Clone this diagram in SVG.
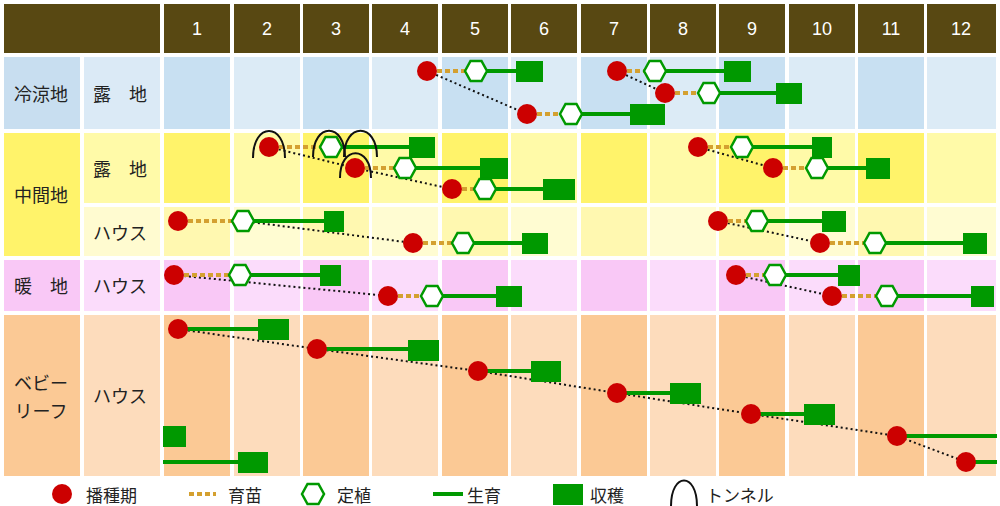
<svg xmlns="http://www.w3.org/2000/svg" width="1000" height="506" viewBox="0 0 1000 506">
<style>
text{font-family:"Noto Sans CJK JP","Liberation Sans",sans-serif;font-size:18px;fill:#222;text-anchor:middle;dominant-baseline:central}
.h{fill:#fff;font-family:"Liberation Sans",sans-serif}
.hd{fill:#584812}
.s{fill:#cc0000}
.p{fill:#fff;stroke:#009900;stroke-width:2.5}
.q{fill:#009900}
.g{stroke:#009900;stroke-width:4;fill:none}
.n{stroke:#d4a030;stroke-width:4;stroke-dasharray:5,3;fill:none}
.d{stroke:#111;stroke-width:2;stroke-dasharray:2,3;fill:none}
.t{stroke:#111;stroke-width:2;fill:none}
.lg{font-size:17px;text-anchor:start}
</style>
<defs>
<polygon id="hx" points="-11,0 -5.5,-10 5.5,-10 11,0 5.5,10 -5.5,10"/>
</defs>
<rect width="1000" height="506" fill="#fff"/>
<g id="header">
<rect class="hd" x="4" y="4" width="156" height="49"/>
<rect class="hd" x="164" y="4" width="66" height="49"/><text class="h" x="197" y="29">1</text>
<rect class="hd" x="234" y="4" width="66" height="49"/><text class="h" x="267" y="29">2</text>
<rect class="hd" x="303" y="4" width="66" height="49"/><text class="h" x="336" y="29">3</text>
<rect class="hd" x="372" y="4" width="66" height="49"/><text class="h" x="405" y="29">4</text>
<rect class="hd" x="442" y="4" width="66" height="49"/><text class="h" x="475" y="29">5</text>
<rect class="hd" x="511" y="4" width="66" height="49"/><text class="h" x="544" y="29">6</text>
<rect class="hd" x="581" y="4" width="66" height="49"/><text class="h" x="614" y="29">7</text>
<rect class="hd" x="650" y="4" width="66" height="49"/><text class="h" x="683" y="29">8</text>
<rect class="hd" x="719" y="4" width="66" height="49"/><text class="h" x="752" y="29">9</text>
<rect class="hd" x="789" y="4" width="66" height="49"/><text class="h" x="822" y="29">10</text>
<rect class="hd" x="858" y="4" width="66" height="49"/><text class="h" x="891" y="29">11</text>
<rect class="hd" x="927" y="4" width="69" height="49"/><text class="h" x="961" y="29">12</text>
</g>
<g id="grid">
<rect x="4" y="57" width="76" height="72" fill="#c8def0"/>
<rect x="84" y="57" width="76" height="72" fill="#dbeaf6"/>
<rect x="4" y="133" width="76" height="123" fill="#fff36a"/>
<rect x="84" y="133" width="76" height="70" fill="#fffaa8"/>
<rect x="84" y="207" width="76" height="49" fill="#fffbd0"/>
<rect x="4" y="260" width="76" height="51" fill="#f9c8f6"/>
<rect x="84" y="260" width="76" height="51" fill="#fbdcfb"/>
<rect x="4" y="315" width="76" height="161" fill="#fbc995"/>
<rect x="84" y="315" width="76" height="161" fill="#fddcbc"/>
</g>
<g id="cells">
<g fill="#c8e0f2"><rect x="164" y="57" width="66" height="72"/><rect x="303" y="57" width="66" height="72"/><rect x="442" y="57" width="66" height="72"/><rect x="581" y="57" width="66" height="72"/><rect x="719" y="57" width="66" height="72"/><rect x="858" y="57" width="66" height="72"/></g>
<g fill="#dcebf6"><rect x="234" y="57" width="66" height="72"/><rect x="372" y="57" width="66" height="72"/><rect x="511" y="57" width="66" height="72"/><rect x="650" y="57" width="66" height="72"/><rect x="789" y="57" width="66" height="72"/><rect x="927" y="57" width="69" height="72"/></g>
<g fill="#fff36a"><rect x="164" y="133" width="66" height="70"/><rect x="303" y="133" width="66" height="70"/><rect x="442" y="133" width="66" height="70"/><rect x="581" y="133" width="66" height="70"/><rect x="719" y="133" width="66" height="70"/><rect x="858" y="133" width="66" height="70"/></g>
<g fill="#fffaa8"><rect x="234" y="133" width="66" height="70"/><rect x="372" y="133" width="66" height="70"/><rect x="511" y="133" width="66" height="70"/><rect x="650" y="133" width="66" height="70"/><rect x="789" y="133" width="66" height="70"/><rect x="927" y="133" width="69" height="70"/></g>
<g fill="#fff8b0"><rect x="164" y="207" width="66" height="49"/><rect x="303" y="207" width="66" height="49"/><rect x="442" y="207" width="66" height="49"/><rect x="581" y="207" width="66" height="49"/><rect x="719" y="207" width="66" height="49"/><rect x="858" y="207" width="66" height="49"/></g>
<g fill="#fffcd2"><rect x="234" y="207" width="66" height="49"/><rect x="372" y="207" width="66" height="49"/><rect x="511" y="207" width="66" height="49"/><rect x="650" y="207" width="66" height="49"/><rect x="789" y="207" width="66" height="49"/><rect x="927" y="207" width="69" height="49"/></g>
<g fill="#f9c8f6"><rect x="164" y="260" width="66" height="51"/><rect x="303" y="260" width="66" height="51"/><rect x="442" y="260" width="66" height="51"/><rect x="581" y="260" width="66" height="51"/><rect x="719" y="260" width="66" height="51"/><rect x="858" y="260" width="66" height="51"/></g>
<g fill="#fbdcfb"><rect x="234" y="260" width="66" height="51"/><rect x="372" y="260" width="66" height="51"/><rect x="511" y="260" width="66" height="51"/><rect x="650" y="260" width="66" height="51"/><rect x="789" y="260" width="66" height="51"/><rect x="927" y="260" width="69" height="51"/></g>
<g fill="#fbc995"><rect x="164" y="315" width="66" height="161"/><rect x="303" y="315" width="66" height="161"/><rect x="442" y="315" width="66" height="161"/><rect x="581" y="315" width="66" height="161"/><rect x="719" y="315" width="66" height="161"/><rect x="858" y="315" width="66" height="161"/></g>
<g fill="#fddcbc"><rect x="234" y="315" width="66" height="161"/><rect x="372" y="315" width="66" height="161"/><rect x="511" y="315" width="66" height="161"/><rect x="650" y="315" width="66" height="161"/><rect x="789" y="315" width="66" height="161"/><rect x="927" y="315" width="69" height="161"/></g>
</g>
<g id="labels">
<text x="41" y="93">冷涼地</text><text x="120" y="93">露　地</text>
<text x="41" y="194">中間地</text><text x="120" y="168">露　地</text><text x="120" y="232">ハウス</text>
<text x="41" y="285">暖　地</text><text x="120" y="285">ハウス</text>
<text x="41" y="382">ベビー</text><text x="41" y="410">リーフ</text><text x="120" y="395">ハウス</text>
</g>
<g id="connectors">
<path class="d" d="M427,71 L527,114 M617,71 L665,93 M269,147 L355,168 L452,189 M698,147 L773,168 M243,221 L413,243 M718,221 L820,243 M174,275 L388,296 M736,275 L832,296 M178,329 L317,349 L478,371 L617,393 L751,414 L897,436 L966,462"/>
<path class="n" d="M437,71H465 M537,114H560 M627,71H644 M675,93H698 M279,147H320 M365,168H394 M462,189H474 M708,147H731 M783,168H806 M188,221H232 M423,243H452 M728,221H746 M830,243H864 M184,275H229 M398,296H421 M746,275H764 M842,296H876"/>
<path class="g" d="M487,71H520 M582,114H635 M666,71H730 M720,93H780 M342,147H415 M416,168H485 M496,189H550 M753,147H815 M828,168H870 M254,221H328 M474,243H525 M768,221H826 M886,243H968 M251,275H324 M443,296H500 M786,275H842 M898,296H975 M178,329H262 M317,349H412 M478,371H535 M617,393H674 M751,414H808 M897,436H997 M966,462H997 M163,462H242"/>
</g>
<g id="harvest">
<rect class="q" x="516" y="61" width="27" height="21"/>
<rect class="q" x="630" y="104" width="35" height="21"/>
<rect class="q" x="724" y="61" width="27" height="21"/>
<rect class="q" x="776" y="83" width="26" height="21"/>
<rect class="q" x="409" y="137" width="26" height="21"/>
<rect class="q" x="480" y="158" width="28" height="21"/>
<rect class="q" x="543" y="179" width="32" height="21"/>
<rect class="q" x="812" y="137" width="20" height="21"/>
<rect class="q" x="866" y="158" width="24" height="21"/>
<rect class="q" x="324" y="211" width="20" height="21"/>
<rect class="q" x="522" y="233" width="26" height="21"/>
<rect class="q" x="822" y="211" width="24" height="21"/>
<rect class="q" x="963" y="233" width="24" height="21"/>
<rect class="q" x="320" y="265" width="21" height="21"/>
<rect class="q" x="496" y="286" width="26" height="21"/>
<rect class="q" x="838" y="265" width="22" height="21"/>
<rect class="q" x="971" y="286" width="23" height="21"/>
<rect class="q" x="258" y="319" width="31" height="21"/>
<rect class="q" x="408" y="340" width="31" height="21"/>
<rect class="q" x="531" y="361" width="30" height="21"/>
<rect class="q" x="670" y="383" width="31" height="21"/>
<rect class="q" x="804" y="404" width="31" height="21"/>
<rect class="q" x="163" y="426" width="23" height="21"/>
<rect class="q" x="238" y="452" width="30" height="21"/>
</g>
<g id="planting">
<use href="#hx" class="p" x="476" y="71"/><use href="#hx" class="p" x="571" y="114"/>
<use href="#hx" class="p" x="655" y="71"/><use href="#hx" class="p" x="709" y="93"/>
<use href="#hx" class="p" x="331" y="147"/><use href="#hx" class="p" x="405" y="168"/><use href="#hx" class="p" x="485" y="189"/>
<use href="#hx" class="p" x="742" y="147"/><use href="#hx" class="p" x="817" y="168"/>
<use href="#hx" class="p" x="243" y="221"/><use href="#hx" class="p" x="463" y="243"/>
<use href="#hx" class="p" x="757" y="221"/><use href="#hx" class="p" x="875" y="243"/>
<use href="#hx" class="p" x="240" y="275"/><use href="#hx" class="p" x="432" y="296"/>
<use href="#hx" class="p" x="775" y="275"/><use href="#hx" class="p" x="887" y="296"/>
</g>
<g id="sowing">
<circle class="s" cx="427" cy="71" r="10"/><circle class="s" cx="527" cy="114" r="10"/>
<circle class="s" cx="617" cy="71" r="10"/><circle class="s" cx="665" cy="93" r="10"/>
<circle class="s" cx="269" cy="147" r="10"/><circle class="s" cx="355" cy="168" r="10"/><circle class="s" cx="452" cy="189" r="10"/>
<circle class="s" cx="698" cy="147" r="10"/><circle class="s" cx="773" cy="168" r="10"/>
<circle class="s" cx="178" cy="221" r="10"/><circle class="s" cx="413" cy="243" r="10"/>
<circle class="s" cx="718" cy="221" r="10"/><circle class="s" cx="820" cy="243" r="10"/>
<circle class="s" cx="174" cy="275" r="10"/><circle class="s" cx="388" cy="296" r="10"/>
<circle class="s" cx="736" cy="275" r="10"/><circle class="s" cx="832" cy="296" r="10"/>
<circle class="s" cx="178" cy="329" r="10"/><circle class="s" cx="317" cy="349" r="10"/><circle class="s" cx="478" cy="371" r="10"/>
<circle class="s" cx="617" cy="393" r="10"/><circle class="s" cx="751" cy="414" r="10"/><circle class="s" cx="897" cy="436" r="10"/><circle class="s" cx="966" cy="462" r="10"/>
</g>
<g id="tunnels">
<path class="t" d="M253,158 C253,122 285,122 285,158"/>
<path class="t" d="M313,157 C313,122 345,122 345,157"/>
<path class="t" d="M344,157 C344,122 377,122 377,157"/>
<path class="t" d="M340,178 C340,145 371,145 371,178"/>
</g>
<g id="legend">
<circle class="s" cx="62" cy="494" r="10"/><text class="lg" x="86" y="494">播種期</text>
<path class="n" d="M189,494H216"/><text class="lg" x="228" y="494">育苗</text>
<use href="#hx" class="p" x="313" y="494"/><text class="lg" x="337" y="494">定植</text>
<path class="g" d="M433,494H463"/><text class="lg" x="467" y="494">生育</text>
<rect class="q" x="553" y="484" width="30" height="21"/><text class="lg" x="590" y="494">収穫</text>
<path class="t" d="M671,506 C671,472 697,472 697,506"/><text class="lg" x="706" y="494">トンネル</text>
</g>
</svg>
